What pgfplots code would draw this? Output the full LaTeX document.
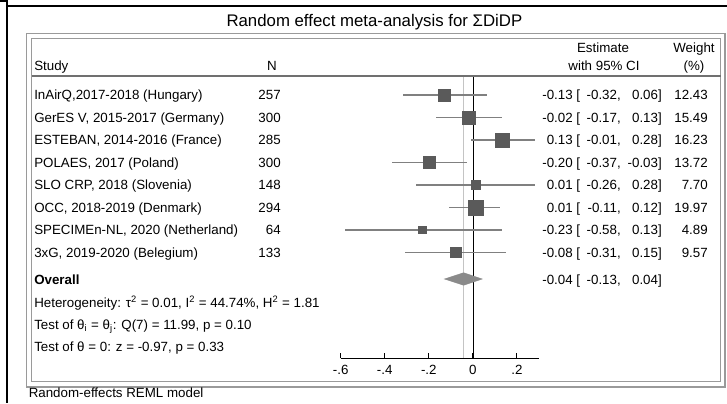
\documentclass[border=0pt]{standalone}
\usepackage{fontspec}
\setmainfont{Liberation Sans}
\usepackage{pgfplots}
\usepackage{pgfplotstable}
\pgfplotsset{compat=1.18}

\definecolor{sqcol}{HTML}{5A5A5A}
\definecolor{cicol}{HTML}{808080}
\definecolor{diacol}{HTML}{8A8A8A}
\definecolor{ovcol}{HTML}{C4C4C4}
\definecolor{framecol}{HTML}{9A9A9A}
\definecolor{rulecol}{HTML}{707070}

% row = vertical position (px from top), est, lower, upper, weight (%)
\pgfplotstableread{
row   est    lo     hi     w
95    -0.13  -0.32  0.06   12.43
117.5 -0.02  -0.17  0.13   15.49
140   0.13   -0.01  0.28   16.23
162.5 -0.20  -0.37  -0.03  13.72
185   0.01   -0.26  0.28   7.70
207.5 0.01   -0.11  0.12   19.97
230   -0.23  -0.58  0.13   4.89
252.5 -0.08  -0.31  0.15   9.57
}\studies

% one text row of the table
\newcommand\studyrow[7]{%
  \node[anchor=base west] at (34,#1+4.8) {#2};
  \node[anchor=base east] at (281,#1+4.8) {#3};
  \node[anchor=base east] at (573,#1+4.8) {#4};
  \node[anchor=base west] at (576,#1+4.8) {[};
  \node[anchor=base east] at (621,#1+4.8) {#5,};
  \node[anchor=base east] at (662,#1+4.8) {#6]};
  \node[anchor=base east] at (708,#1+4.8) {#7};
}

\begin{document}
\begin{tikzpicture}
\useasboundingbox (0,0) rectangle (545.25pt,302.25pt);

\begin{axis}[
  name=main, at={(0,0)}, anchor=south west,
  scale only axis, width=545.25pt, height=302.25pt,
  xmin=-2.1416, xmax=1.1480, ymin=0, ymax=403, y dir=reverse,
  hide axis, clip=false]
  % reference lines
  \addplot[ovcol, line width=0.9pt] coordinates {(-0.044,76.3) (-0.044,358.3)};
  \addplot[black, line width=0.75pt] coordinates {(0,76.3) (0,358.3)};
  % confidence intervals
  \addplot[draw=none, mark=none,
    error bars/.cd, x dir=both, x explicit, error mark=none,
    error bar style={draw=cicol, line width=0.9pt}]
    table[x=est, y=row,
      x error plus expr=\thisrow{hi}-\thisrow{est},
      x error minus expr=\thisrow{est}-\thisrow{lo}] {\studies};
  % weighted squares
  \addplot[scatter, only marks, mark=square*,
    scatter/use mapped color={draw=sqcol, fill=sqcol},
    visualization depends on={1.26*sqrt(\thisrow{w}) \as \msize},
    scatter/@pre marker code/.append style={/tikz/mark size=\msize}]
    table[x=est, y=row] {\studies};
  % overall diamond
  \addplot[fill=diacol, draw=diacol] coordinates
    {(-0.13,279) (-0.044,272.8) (0.04,279) (-0.044,285.2)} --cycle;
  \coordinate (so) at (axis cs:-0.6,358.3);
\end{axis}

\begin{axis}[
  at={(so)}, anchor=south west, scale only axis,
  width=148.7pt, height=10pt,
  xmin=-0.6, xmax=0.3, ymin=0, ymax=1,
  axis x line=bottom, axis y line=none,
  x axis line style={-, black, line width=0.75pt},
  xtick={-0.6,-0.4,-0.2,0,0.2},
  xticklabels={\mbox{-.6},\mbox{-.4},\mbox{-.2},\mbox{0},\mbox{.2}},
  tick align=inside, major tick length=3.75pt,
  xtick style={black, line width=0.75pt},
  xticklabel style={font=\fontsize{10}{12}\selectfont, yshift=-2pt}]
\end{axis}

\begin{scope}[x=0.75pt, y=-0.75pt, yshift=302.25pt,
  every node/.style={inner sep=0pt, font=\fontsize{10}{12}\selectfont}]
  % outer lines
  \draw[black, line width=1.5pt] (0,1) -- (8,1);
  \draw[black, line width=1.5pt] (7,0) -- (7,403);
  \draw[black, line width=1.5pt] (7,6) -- (727,6);
  \draw[framecol, line width=1.1pt] (26.7,33.3) rectangle (725,386.8);
  \draw[framecol, line width=1.1pt] (31.7,38.7) rectangle (720.7,381.7);
  \draw[rulecol, line width=1.5pt] (31.7,76.3) -- (720.7,76.3);

  \node[anchor=base, font=\fontsize{12.6}{15}\selectfont] at (374.4,26.5)
    {Random effect meta-analysis for ΣDiDP};

  % header
  \node[anchor=base] at (603,52.3) {Estimate};
  \node[anchor=base] at (604,70.3) {with 95\% CI};
  \node[anchor=base] at (694,52.3) {Weight};
  \node[anchor=base] at (694,70.3) {(\%)};
  \node[anchor=base west] at (34,70.3) {Study};
  \node[anchor=base] at (272,70.3) {N};

  \studyrow{95}{InAirQ,2017-2018 (Hungary)}{257}{-0.13}{-0.32}{0.06}{12.43}
  \studyrow{117.5}{GerES V, 2015-2017 (Germany)}{300}{-0.02}{-0.17}{0.13}{15.49}
  \studyrow{140}{ESTEBAN, 2014-2016 (France)}{285}{0.13}{-0.01}{0.28}{16.23}
  \studyrow{162.5}{POLAES, 2017 (Poland)}{300}{-0.20}{-0.37}{-0.03}{13.72}
  \studyrow{185}{SLO CRP, 2018 (Slovenia)}{148}{0.01}{-0.26}{0.28}{7.70}
  \studyrow{207.5}{OCC, 2018-2019 (Denmark)}{294}{0.01}{-0.11}{0.12}{19.97}
  \studyrow{230}{SPECIMEn-NL, 2020 (Netherland)}{64}{-0.23}{-0.58}{0.13}{4.89}
  \studyrow{252.5}{3xG, 2019-2020 (Belegium)}{133}{-0.08}{-0.31}{0.15}{9.57}

  % overall
  \node[anchor=base west, font=\fontsize{10}{12}\selectfont\bfseries] at (34,284.8) {Overall};
  \node[anchor=base east] at (573,284.8) {-0.04};
  \node[anchor=base west] at (576,284.8) {[};
  \node[anchor=base east] at (621,284.8) {-0.13,};
  \node[anchor=base east] at (662,284.8) {0.04]};

  \node[anchor=base west] at (34,307.3)
    {Heterogeneity: τ\textsuperscript{2} = 0.01, I\textsuperscript{2} = 44.74\%, H\textsuperscript{2} = 1.81};
  \node[anchor=base west] at (34,329.3)
    {Test of θ\textsubscript{i} = θ\textsubscript{j}: Q(7) = 11.99, p = 0.10};
  \node[anchor=base west] at (34,351.3)
    {Test of θ = 0: z = -0.97, p = 0.33};

  \node[anchor=base west] at (28.5,397.3) {Random-effects REML model};
\end{scope}
\end{tikzpicture}
\end{document}
